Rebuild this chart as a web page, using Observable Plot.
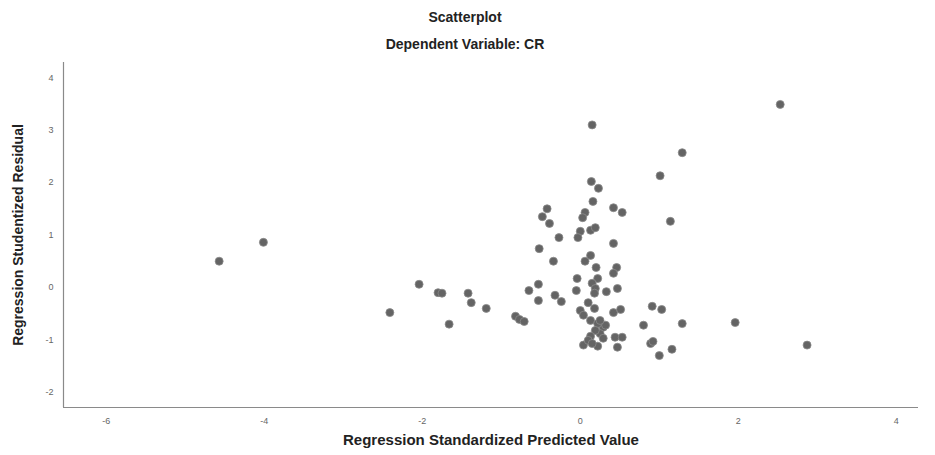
<!DOCTYPE html>
<html>
<head>
<meta charset="utf-8">
<script src="https://cdn.jsdelivr.net/npm/d3@7"></script>
<script src="https://cdn.jsdelivr.net/npm/@observablehq/plot@0.6"></script>
<style>
  html, body { margin: 0; padding: 0; background: #fff; }
  #wrap { width: 935px; font-family: "Liberation Sans", Arial, sans-serif; }
  .t1, .t2 { position: absolute; left: 0; width: 930px; text-align: center; font-weight: bold; font-size: 14px; color: #222; }
  .t1 { top: 9px; }
  .t2 { top: 36px; }
  #chart { position: absolute; top: 57px; left: 0; }
</style>
</head>
<body>
<div id="wrap">
  <div class="t1">Scatterplot</div>
  <div class="t2">Dependent Variable: CR</div>
  <div id="chart"></div>
</div>
<script>
const xLabel = "Regression Standardized Predicted Value";
const yLabel = "Regression Studentized Residual";
const xTicks = [-6, -4, -2, 0, 2, 4];
const yTicks = [-2, -1, 0, 1, 2, 3, 4];

const predicted = [
  -4.57, -4.01, -2.41, -2.04, -1.80, -1.75, -1.66, -1.42, -1.38, -1.19,
  -0.82, -0.77, -0.71, -0.65, -0.53, -0.53, -0.52, -0.34, -0.32, -0.24,
  -0.05, -0.04, 0.06, 0.13, 0.20, 0.46, 0.42, 0.22, 0.15, 0.19,
  0.18, 0.33, 0.47, 0.10, 0.18, 0.00, 0.04, 0.42, 0.51, 0.91,
  1.03, 1.29, 0.80, 1.96, 2.87, 0.29, 0.25, 0.29, 0.44, 0.53,
  0.04, 0.22, 0.47, 0.89, 0.92, 1.16, 1.00, 0.13, 0.22, 0.19,
  0.13, 0.10, 0.32, 0.15, 0.25, 0.15, 1.29, 1.01, 2.53, 0.14,
  0.23, 0.16, -0.42, -0.48, -0.39, 0.42, 0.53, 0.06, 0.03, 1.14,
  -0.27, 0.00, -0.03, 0.13, 0.19, 0.42
];
const residual = [
  0.50, 0.86, -0.48, 0.06, -0.10, -0.11, -0.70, -0.11, -0.29, -0.40,
  -0.55, -0.61, -0.65, -0.06, 0.06, -0.25, 0.74, 0.50, -0.15, -0.27,
  -0.06, 0.17, 0.50, 0.61, 0.38, 0.38, 0.27, 0.17, 0.08, -0.02,
  -0.11, -0.08, -0.02, -0.29, -0.40, -0.44, -0.53, -0.48, -0.42, -0.36,
  -0.42, -0.69, -0.72, -0.67, -1.10, -0.76, -0.88, -0.97, -0.95, -0.95,
  -1.10, -1.12, -1.14, -1.07, -1.03, -1.18, -1.30, -0.63, -0.69, -0.82,
  -0.93, -1.01, -0.72, -1.07, -0.63, 3.10, 2.57, 2.13, 3.49, 2.02,
  1.89, 1.64, 1.50, 1.35, 1.22, 1.52, 1.43, 1.43, 1.33, 1.26,
  0.95, 1.07, 0.95, 1.09, 1.14, 0.84
];

const data = predicted.map((x, i) => ({x, y: residual[i]}));
const fmt = d => String(d);

const chart = Plot.plot({
  width: 935,
  height: 398,
  marginLeft: 63,
  marginRight: 17,
  marginTop: 5,
  marginBottom: 48,
  style: { fontFamily: "Liberation Sans, Arial, sans-serif", background: "#fff" },
  x: { domain: [-6.54, 4.28] },
  y: { domain: [-2.29, 4.29] },
  marks: [
    Plot.axisX({ ticks: xTicks, tickFormat: fmt, tickSize: 0, tickPadding: 10, label: null, fontSize: 9, fill: "#666" }),
    Plot.axisY({ ticks: yTicks, tickFormat: fmt, tickSize: 0, tickPadding: 10, label: null, fontSize: 9, fill: "#666" }),
    Plot.ruleY([-2.29], { stroke: "#8a8a8a", strokeWidth: 1.2 }),
    Plot.ruleX([-6.54], { stroke: "#8a8a8a", strokeWidth: 1.2 }),
    Plot.dot(data, { x: "x", y: "y", r: 4, fill: "#646464", stroke: "#8a8a8a", strokeWidth: 0.8 }),
    Plot.text([xLabel], { frameAnchor: "bottom", dy: 37, fontSize: 15, fontWeight: "bold", fill: "#222" }),
    Plot.text([yLabel], { frameAnchor: "left", textAnchor: "middle", dx: -45, rotate: -90, fontSize: 14, fontWeight: "bold", fill: "#222" })
  ]
});
document.getElementById("chart").appendChild(chart);
</script>
</body>
</html>
